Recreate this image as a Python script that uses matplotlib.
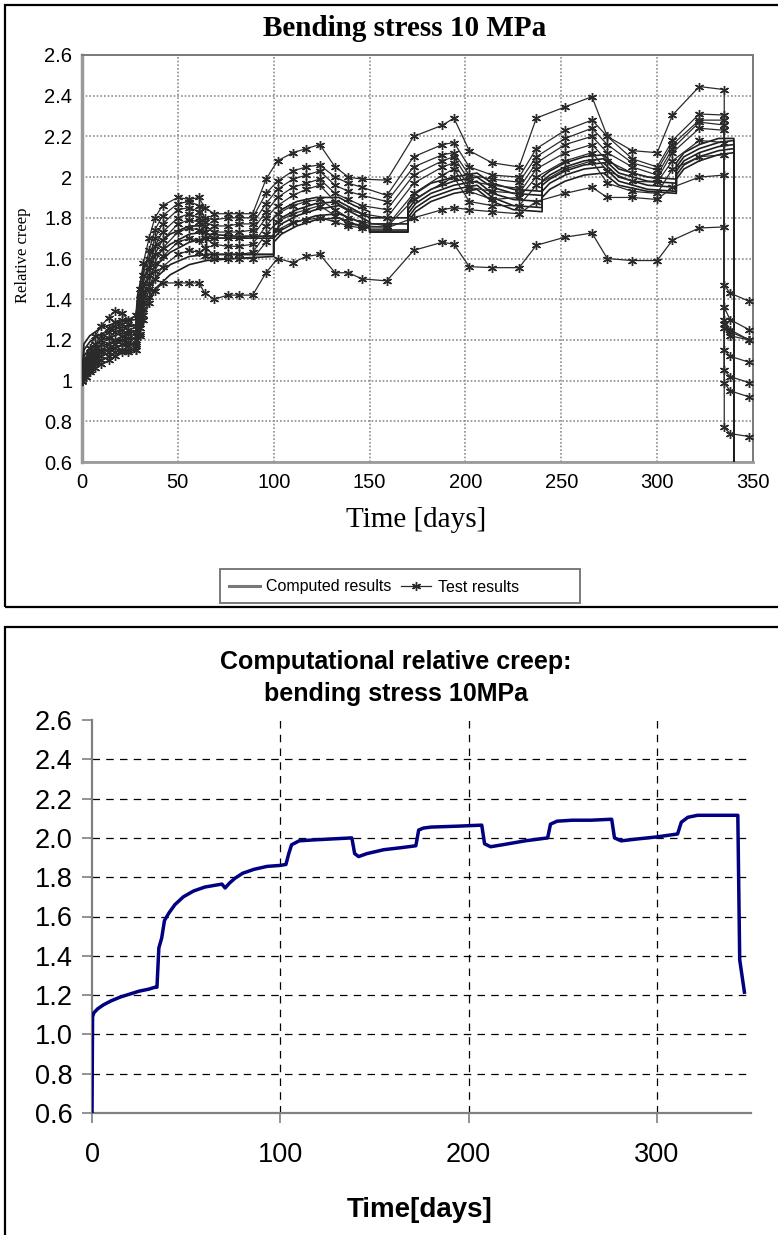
import matplotlib
matplotlib.use('Agg')
import matplotlib.pyplot as plt
from matplotlib.patches import Rectangle
from matplotlib.lines import Line2D

# ---- top panel: test results (common measuring days) ----
t_test = [0, 2, 4, 7, 10, 14, 17, 21, 24, 28, 30, 32, 35, 38, 42, 50, 56, 61, 64, 69,
          76, 82, 89, 96, 102, 110, 117, 124, 132, 139, 146, 159, 173, 188, 194, 202,
          214, 228, 237, 252, 266, 274, 287, 300, 308, 322, 335, 335, 338, 348]

test_1 = [1.00, 1.10, 1.16, 1.22, 1.27, 1.31, 1.34, 1.33, 1.30, 1.32, 1.45, 1.58, 1.70, 1.80,
          1.86, 1.90, 1.89, 1.90, 1.85, 1.82, 1.82, 1.82, 1.82, 1.99, 2.08, 2.12, 2.14, 2.16,
          2.05, 2.00, 1.99, 1.985, 2.20, 2.255, 2.29, 2.13, 2.07, 2.05, 2.29, 2.345, 2.395,
          2.20, 2.13, 2.12, 2.305, 2.445, 2.43, 1.47, 1.43, 1.39]
test_2 = [1.00, 1.08, 1.13, 1.18, 1.22, 1.26, 1.29, 1.30, 1.28, 1.27, 1.40, 1.52, 1.64, 1.74,
          1.81, 1.87, 1.88, 1.86, 1.80, 1.79, 1.80, 1.80, 1.80, 1.92, 1.98, 2.03, 2.05, 2.06,
          2.00, 1.97, 1.95, 1.91, 2.10, 2.16, 2.17, 2.05, 2.01, 2.00, 2.14, 2.23, 2.28, 2.20,
          2.09, 2.05, 2.18, 2.31, 2.305, 1.36, 1.30, 1.25]
test_3 = [1.00, 1.07, 1.12, 1.16, 1.20, 1.24, 1.27, 1.28, 1.25, 1.24, 1.36, 1.48, 1.60, 1.70,
          1.77, 1.84, 1.85, 1.83, 1.78, 1.76, 1.76, 1.77, 1.77, 1.87, 1.94, 1.99, 2.01, 2.03,
          1.96, 1.93, 1.91, 1.88, 2.05, 2.11, 2.12, 2.01, 1.99, 1.975, 2.10, 2.19, 2.24, 2.16,
          2.07, 2.035, 2.16, 2.28, 2.28, 1.30, 1.25, 1.20]
test_4 = [1.00, 1.06, 1.10, 1.14, 1.18, 1.21, 1.24, 1.25, 1.23, 1.22, 1.33, 1.44, 1.56, 1.66,
          1.73, 1.80, 1.82, 1.80, 1.76, 1.73, 1.73, 1.73, 1.74, 1.83, 1.90, 1.95, 1.97, 1.99,
          1.92, 1.89, 1.86, 1.84, 2.01, 2.08, 2.10, 1.98, 1.96, 1.945, 2.07, 2.16, 2.20, 2.12,
          2.05, 2.01, 2.14, 2.27, 2.256, 1.28, 1.24, 1.20]
test_5 = [1.00, 1.05, 1.09, 1.12, 1.15, 1.18, 1.20, 1.22, 1.21, 1.20, 1.30, 1.41, 1.52, 1.62,
          1.69, 1.77, 1.79, 1.78, 1.73, 1.70, 1.70, 1.70, 1.71, 1.80, 1.86, 1.91, 1.94, 1.96,
          1.88, 1.84, 1.82, 1.80, 1.97, 2.05, 2.07, 1.95, 1.93, 1.92, 2.04, 2.12, 2.16, 2.08,
          2.02, 1.99, 2.12, 2.24, 2.23, 1.26, 1.22, 1.20]
test_6 = [1.00, 1.04, 1.08, 1.11, 1.14, 1.16, 1.18, 1.20, 1.19, 1.18, 1.28, 1.38, 1.48, 1.58,
          1.65, 1.73, 1.75, 1.74, 1.70, 1.67, 1.66, 1.66, 1.67, 1.76, 1.82, 1.86, 1.88, 1.89,
          1.84, 1.80, 1.78, 1.76, 1.92, 2.01, 2.04, 1.93, 1.89, 1.90, 2.00, 2.08, 2.12, 2.03,
          1.98, 1.975, 2.08, 2.18, 2.17, 1.15, 1.12, 1.09]
test_7 = [1.00, 1.03, 1.06, 1.09, 1.12, 1.14, 1.16, 1.18, 1.17, 1.17, 1.26, 1.35, 1.45, 1.54,
          1.61, 1.68, 1.70, 1.69, 1.65, 1.62, 1.62, 1.62, 1.63, 1.72, 1.78, 1.82, 1.84, 1.86,
          1.81, 1.77, 1.76, 1.755, 1.89, 1.97, 2.00, 1.88, 1.86, 1.86, 1.96, 2.04, 2.08, 1.97,
          1.93, 1.92, 2.04, 2.10, 2.11, 1.05, 1.02, 0.99]
test_8 = [1.00, 1.02, 1.05, 1.08, 1.10, 1.12, 1.14, 1.15, 1.15, 1.15, 1.23, 1.32, 1.41, 1.50,
          1.56, 1.62, 1.64, 1.63, 1.61, 1.60, 1.60, 1.60, 1.60, 1.68, 1.74, 1.78, 1.79, 1.80,
          1.78, 1.76, 1.75, 1.75, 1.80, 1.84, 1.85, 1.84, 1.83, 1.82, 1.88, 1.92, 1.95, 1.90,
          1.90, 1.89, 1.95, 2.00, 2.01, 0.99, 0.95, 0.92]
test_9 = [1.00, 1.02, 1.04, 1.06, 1.08, 1.10, 1.12, 1.14, 1.14, 1.15, 1.22, 1.30, 1.38, 1.44,
          1.48, 1.48, 1.48, 1.48, 1.43, 1.40, 1.42, 1.42, 1.42, 1.53, 1.60, 1.58, 1.61, 1.62,
          1.53, 1.53, 1.50, 1.49, 1.64, 1.68, 1.67, 1.56, 1.555, 1.555, 1.665, 1.705, 1.725,
          1.60, 1.59, 1.59, 1.69, 1.75, 1.755, 0.77, 0.74, 0.725]
tests = [test_1, test_2, test_3, test_4, test_5, test_6, test_7, test_8, test_9]

# ---- top panel: computed results ----
t_comp = [0, 1, 4, 10, 20, 28, 29, 32, 38, 46, 56, 65, 65, 80, 100, 100, 104, 112, 122, 134,
          142, 150, 150, 170, 170, 174, 182, 194, 206, 214, 225, 240, 240, 244, 252, 262,
          272, 280, 295, 310, 310, 314, 322, 332, 340, 340]
comp_1 = [1.00, 1.18, 1.22, 1.26, 1.29, 1.30, 1.42, 1.55, 1.66, 1.72, 1.76, 1.76, 1.72, 1.71,
          1.71, 1.80, 1.84, 1.88, 1.90, 1.90, 1.86, 1.83, 1.80, 1.80, 1.87, 1.92, 1.97, 2.00,
          2.02, 1.97, 1.94, 1.93, 2.00, 2.03, 2.07, 2.10, 2.11, 2.04, 2.00, 1.99, 2.07, 2.12,
          2.16, 2.19, 2.19, 0.6]
comp_2 = [1.00, 1.15, 1.19, 1.23, 1.26, 1.27, 1.38, 1.50, 1.61, 1.67, 1.72, 1.73, 1.70, 1.70,
          1.70, 1.76, 1.80, 1.84, 1.87, 1.88, 1.84, 1.80, 1.77, 1.77, 1.84, 1.89, 1.94, 1.98,
          2.00, 1.95, 1.92, 1.91, 1.98, 2.01, 2.05, 2.08, 2.09, 2.02, 1.98, 1.97, 2.05, 2.10,
          2.14, 2.17, 2.18, 0.6]
comp_3 = [1.00, 1.12, 1.16, 1.20, 1.23, 1.24, 1.35, 1.46, 1.56, 1.63, 1.68, 1.70, 1.62, 1.62,
          1.62, 1.73, 1.77, 1.81, 1.84, 1.86, 1.82, 1.78, 1.74, 1.74, 1.82, 1.87, 1.92, 1.96,
          1.98, 1.92, 1.89, 1.88, 1.96, 1.99, 2.03, 2.06, 2.07, 2.00, 1.96, 1.95, 2.03, 2.08,
          2.12, 2.15, 2.16, 0.6]
comp_4 = [1.00, 1.10, 1.14, 1.17, 1.20, 1.21, 1.31, 1.41, 1.50, 1.57, 1.61, 1.62, 1.62, 1.62,
          1.62, 1.70, 1.74, 1.78, 1.81, 1.82, 1.79, 1.76, 1.73, 1.73, 1.80, 1.85, 1.90, 1.94,
          1.96, 1.90, 1.86, 1.85, 1.93, 1.97, 2.01, 2.04, 2.05, 1.98, 1.94, 1.93, 2.01, 2.06,
          2.10, 2.13, 2.14, 0.6]
comp_5 = [1.00, 1.08, 1.11, 1.14, 1.17, 1.18, 1.27, 1.36, 1.45, 1.52, 1.57, 1.59, 1.59, 1.60,
          1.61, 1.68, 1.72, 1.76, 1.79, 1.80, 1.77, 1.75, 1.73, 1.73, 1.78, 1.83, 1.88, 1.92,
          1.94, 1.88, 1.84, 1.83, 1.90, 1.94, 1.98, 2.01, 2.02, 1.96, 1.93, 1.92, 1.99, 2.04,
          2.08, 2.11, 2.12, 0.6]
comps = [comp_1, comp_2, comp_3, comp_4, comp_5]

top_yticks = [0.6, 0.8, 1.0, 1.2, 1.4, 1.6, 1.8, 2.0, 2.2, 2.4, 2.6]
top_ylabels = ['0.6', '0.8', '1', '1.2', '1.4', '1.6', '1.8', '2', '2.2', '2.4', '2.6']
top_xticks = [0, 50, 100, 150, 200, 250, 300, 350]

# ---- bottom panel: computational relative creep ----
days = [0, 0.3, 1, 3, 6, 10, 15, 20, 25, 30, 33.5, 34.5, 35.5, 37, 38.5, 41, 44, 48.5, 54, 60,
        66, 69, 70.7, 73, 76, 80, 86, 93, 100, 103, 104.5, 106, 110, 118, 128, 138, 139.5,
        141.6, 146, 155, 164, 172, 173.5, 176, 180, 195, 207, 208.5, 211.7, 218, 230, 242,
        243.5, 247, 255, 265, 276, 277.5, 281, 290, 300, 311, 313, 316.5, 321.6, 335, 343,
        344, 346.5]
creep = [0.6, 1.09, 1.11, 1.13, 1.15, 1.17, 1.19, 1.205, 1.22, 1.23, 1.24, 1.24, 1.44, 1.49,
         1.58, 1.62, 1.66, 1.70, 1.73, 1.75, 1.76, 1.765, 1.745, 1.77, 1.795, 1.82, 1.84, 1.855,
         1.86, 1.865, 1.92, 1.965, 1.985, 1.99, 1.995, 2.0, 1.92, 1.905, 1.92, 1.94, 1.95, 1.96,
         2.04, 2.05, 2.055, 2.06, 2.065, 1.97, 1.955, 1.965, 1.985, 2.0, 2.07, 2.085, 2.09, 2.09,
         2.095, 2.00, 1.985, 1.995, 2.005, 2.02, 2.08, 2.105, 2.115, 2.115, 2.115, 1.38, 1.215]
bot_yticks = [0.6, 0.8, 1.0, 1.2, 1.4, 1.6, 1.8, 2.0, 2.2, 2.4, 2.6]
bot_xticks = [0, 100, 200, 300]

W, H = 778, 1235
fig = plt.figure(figsize=(W / 100, H / 100), dpi=100)


def fx(px):
    return px / W


def fy(py):
    return 1 - py / H


def box(x0, y0, x1, y1):
    return [fx(x0), fy(y1), fx(x1) - fx(x0), fy(y0) - fy(y1)]


serif = 'Liberation Serif'
sans = 'Liberation Sans'

# panel frames
fig.add_artist(Rectangle((fx(5), fy(607)), fx(790) - fx(5), fy(5) - fy(607),
                         transform=fig.transFigure, fill=False, ec='black', lw=1.6))
fig.add_artist(Rectangle((fx(5), fy(1250)), fx(790) - fx(5), fy(627) - fy(1250),
                         transform=fig.transFigure, fill=False, ec='black', lw=1.6))

# ================= top chart =================
ax1 = fig.add_axes(box(82, 55, 753, 462))
for c in comps:
    ax1.plot(t_comp, c, color='#1e1e1e', lw=1.2, zorder=3)
for s in tests:
    ax1.plot(t_test, s, color='#2a2a2a', lw=0.9, marker=(6, 2, 0), ms=6.5, mew=1.0, zorder=4)
ax1.set_xlim(0, 350)
ax1.set_ylim(0.6, 2.6)
ax1.set_xticks(top_xticks)
ax1.set_yticks(top_yticks)
ax1.set_yticklabels(top_ylabels)
ax1.grid(True, color='#8c8c8c', lw=1.2, ls=(0, (1, 1.2)))
ax1.set_axisbelow(True)
for sp in ax1.spines.values():
    sp.set_color('#7a7a7a')
    sp.set_linewidth(1.4)
ax1.spines['left'].set_linewidth(2.5)
ax1.spines['left'].set_color('#9a9a9a')
ax1.spines['bottom'].set_linewidth(2.0)
ax1.spines['bottom'].set_color('#9a9a9a')
ax1.tick_params(length=0, labelsize=14.5)
ax1.tick_params(axis='y', pad=7)
ax1.tick_params(axis='x', pad=8)
for lab in ax1.get_xticklabels() + ax1.get_yticklabels():
    lab.set_fontfamily(sans)

fig.text(fx(405), fy(28), 'Bending stress 10 MPa', ha='center', va='center',
         fontsize=21, fontweight='bold', family=serif)
fig.text(fx(23), fy(255), 'Relative creep', ha='center', va='center', rotation=90,
         fontsize=12, family=serif)
fig.text(fx(416), fy(520), 'Time [days]', ha='center', va='center',
         fontsize=21, family=serif)

# legend: Excel-style box drawn separately, entries placed inside it
fig.add_artist(Rectangle((fx(220), fy(603)), fx(580) - fx(220), fy(569) - fy(603),
                         transform=fig.transFigure, fill=False, ec='#7a7a7a', lw=1.4))
handles = [Line2D([], [], color='#777777', lw=2.2),
           Line2D([], [], color='#2a2a2a', lw=0.9, marker=(6, 2, 0), ms=6.5, mew=1.0)]
fig.legend(handles, ['Computed results', 'Test results'], ncol=2,
           loc='center', bbox_to_anchor=(fx(374), fy(587)),
           prop={'family': sans, 'size': 11.5}, frameon=False,
           handlelength=1.9, handletextpad=0.4, columnspacing=0.6,
           borderpad=0, borderaxespad=0)

# ================= bottom chart =================
ax2 = fig.add_axes(box(92, 720, 751, 1113))
ax2.plot(days, creep, color='#000080', lw=2.5, zorder=3)
ax2.set_xlim(0, 350)
ax2.set_ylim(0.6, 2.6)
ax2.set_xticks(bot_xticks)
ax2.set_yticks(bot_yticks)
ax2.set_yticklabels([f'{v:.1f}' for v in bot_yticks])
ax2.grid(True, color='black', lw=0.9, ls=(0, (6, 5)))
ax2.get_ygridlines()[-1].set_visible(False)
ax2.get_ygridlines()[0].set_visible(False)
ax2.get_xgridlines()[0].set_visible(False)
ax2.spines['top'].set_visible(False)
ax2.spines['right'].set_visible(False)
for side in ('left', 'bottom'):
    ax2.spines[side].set_color('#808080')
    ax2.spines[side].set_linewidth(1.6)
ax2.tick_params(direction='out', length=7, width=1.2, color='#808080', labelsize=19.5)
ax2.tick_params(axis='y', pad=7)
ax2.tick_params(axis='x', pad=14)
for lab in ax2.get_xticklabels() + ax2.get_yticklabels():
    lab.set_fontfamily(sans)

fig.text(fx(396), fy(678), 'Computational relative creep:\nbending stress 10MPa',
         ha='center', va='center', fontsize=18, fontweight='bold', family=sans,
         linespacing=1.45)
fig.text(fx(420), fy(1210), 'Time[days]', ha='center', va='center',
         fontsize=20, fontweight='bold', family=sans)

fig.savefig('out.png', dpi=100)
